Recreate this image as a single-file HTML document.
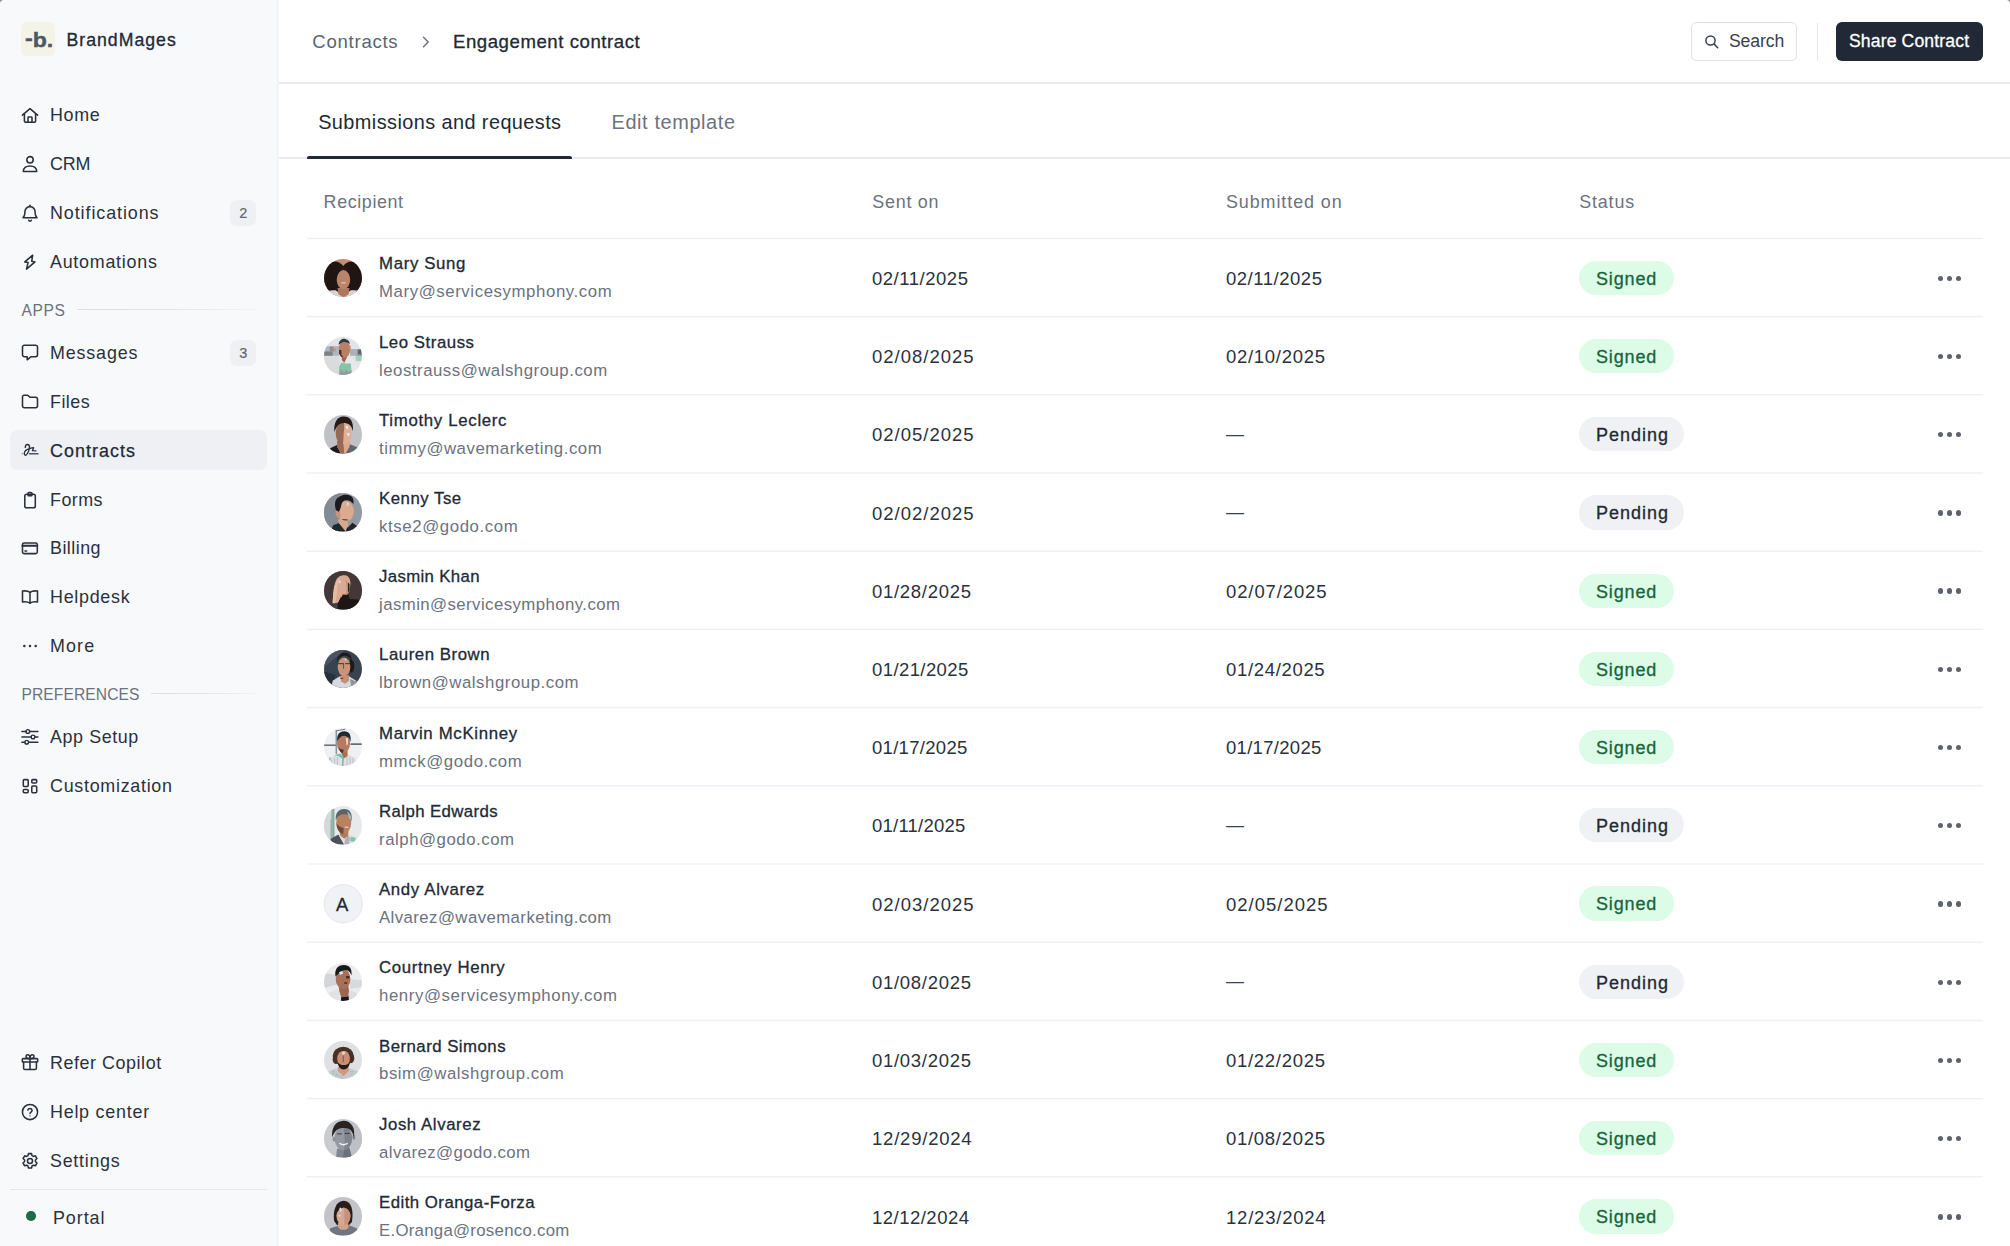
<!DOCTYPE html>
<html lang="en">
<head>
<meta charset="utf-8">
<title>Engagement contract – Contracts</title>
<style>
*{box-sizing:border-box;margin:0;padding:0}
html,body{width:2010px;height:1246px;overflow:hidden;background:#fff}
body{font-family:"Liberation Sans",sans-serif;color:#212936;position:relative;-webkit-font-smoothing:antialiased}
.abs{position:absolute}
/* ---------- sidebar ---------- */
#side{position:absolute;left:0;top:0;width:279px;height:1246px;background:linear-gradient(90deg,#f8f9fb 0 277px,#f0f1f5 277px 278px,#fafafb 278px 279px)}
.logo{position:absolute;left:21.3px;top:22.1px;width:33.9px;height:33.9px;border-radius:6px;background:#f3f3e8}
.logo span{position:absolute;left:3.6px;top:4.5px;font-weight:bold;font-size:21px;letter-spacing:0;color:#50565f;-webkit-text-stroke:0.4px #50565f;line-height:26px;transform:scaleX(1.1);transform-origin:0 0;white-space:nowrap}
.brand{position:absolute;left:66.5px;top:27.6px;font-size:17.7px;line-height:24px;color:#212936;-webkit-text-stroke:0.3px #212936;letter-spacing:0.42px;white-space:nowrap}
.nav{position:absolute;left:10px;width:257px;height:40px;border-radius:7px}
.nav.on{background:#eff0f3}
.nav svg{position:absolute;left:10px;top:10px;width:20px;height:20px;fill:none;stroke:#2a313c;stroke-width:1.55;stroke-linecap:round;stroke-linejoin:round;overflow:visible}
.nav .t{position:absolute;left:40px;top:8.2px;font-size:17.9px;line-height:24px;color:#2a313c;white-space:nowrap;letter-spacing:0.3px}
.nav.on .t{-webkit-text-stroke:0.25px #212936;color:#212936}
.nav .b{position:absolute;right:11px;top:7.2px;width:26px;height:26px;border-radius:6.5px;background:#eff0f3;font-size:14.5px;line-height:26.6px;text-align:center;color:#5f6673;-webkit-text-stroke:0.2px #5f6673;padding-left:0.8px}
.sec{position:absolute;left:21.5px;font-size:15.6px;line-height:20px;color:#6b7280;letter-spacing:0.35px;white-space:nowrap}
.sec i{position:absolute;top:7.7px;height:1.5px;background:linear-gradient(90deg,#dcdee3,#e3e5ea 55%,#f2f3f6)}
.logo i{font-style:normal;position:relative;top:-1.8px}
.cnr{position:absolute;top:0;width:4px;height:4px}
.sdiv{position:absolute;left:10px;width:257px;top:1188.5px;height:1.3px;background:#e4e6ea}
.dot{position:absolute;left:26.1px;top:1211.2px;width:9.5px;height:9.5px;border-radius:50%;background:#1f6a47}
/* ---------- header ---------- */
#main{position:absolute;left:279px;top:0;width:1731px;height:1246px;background:#fff}
.hline{position:absolute;left:0;width:1731px;height:1.5px;background:#e9ebef}
.bc{position:absolute;top:29px;font-size:18.6px;line-height:26px;white-space:nowrap}
.btn{position:absolute;top:22.4px;height:38.6px;border-radius:5.5px;font-size:17.6px;line-height:38px;white-space:nowrap}
/* ---------- tabs ---------- */
.tab{position:absolute;top:108px;font-size:19.9px;line-height:28px;white-space:nowrap}
/* ---------- table ---------- */
.th{position:absolute;top:190px;font-size:17.9px;line-height:24px;color:#6b7280;white-space:nowrap;letter-spacing:0.35px}
.row{position:absolute;left:28px;width:1676px;height:78.2px}
.ln{position:absolute;left:28px;width:1676px;height:3px}
.row .d2.em{letter-spacing:0;font-size:18px;color:#3a4150;top:27.4px}
.pill b{font-weight:normal}
.row .av{position:absolute;left:16.6px;top:20.9px;width:38.5px;height:38.5px;border-radius:50%;overflow:hidden}
.row .av svg{display:block;width:100%;height:100%}
.row .n{position:absolute;left:72px;top:14.7px;font-size:16.8px;line-height:24px;color:#212936;-webkit-text-stroke:0.3px #212936;white-space:nowrap;letter-spacing:0.45px}
.row .e{position:absolute;left:72px;top:42.6px;font-size:16.8px;line-height:24px;color:#6b7280;white-space:nowrap;letter-spacing:0.3px}
.row .d1,.row .d2{position:absolute;top:29.2px;font-size:18.5px;line-height:24px;color:#2a313c;white-space:nowrap;letter-spacing:0.55px}
.row .d1{left:565px}.row .d2{left:919px}
.pill{position:absolute;left:1272px;top:23px;height:34.2px;border-radius:17.1px;font-size:18px;line-height:36px;padding:0 17px;white-space:nowrap;letter-spacing:0.3px}
.pill.s{background:#dcfce7;color:#17643b;-webkit-text-stroke:0.3px #17643b;width:95px}
.pill.p{background:#f0f1f4;color:#212936;-webkit-text-stroke:0.3px #212936;width:105px}
.more{position:absolute;left:1631.2px;top:37.9px;width:24px;height:6px}
.more i{position:absolute;top:0;width:5.3px;height:5.3px;border-radius:50%;background:#5c636e}
</style>
</head>
<body>
<div id="side">
<div class="logo"><span><i>-</i>b.</span></div>
<div class="brand" style="letter-spacing:1.000px">BrandMages</div>
<div class="nav" style="top:95.00px"><svg viewBox="0 0 20 20"><path d="M2.4 10.2 10 3.7l7.6 6.5"/><path d="M4.4 8.9v6.8a1.6 1.6 0 0 0 1.6 1.6h8a1.6 1.6 0 0 0 1.6-1.6V8.9"/><path d="M8 17.1v-4.4a.7.7 0 0 1 .7-.7h2.6a.7.7 0 0 1 .7.7v4.4"/></svg><span class="t" style="letter-spacing:0.700px">Home</span></div>
<div class="nav" style="top:143.85px"><svg viewBox="0 0 20 20"><circle cx="10" cy="5.8" r="3.2"/><path d="M3.3 17.5c0-3.4 2.7-5.6 6.7-5.6s6.7 2.2 6.7 5.6z"/></svg><span class="t" style="letter-spacing:-0.200px">CRM</span></div>
<div class="nav" style="top:192.70px"><svg viewBox="0 0 20 20"><path d="M10 2.3v1"/><path d="M4.9 8.7a5.1 5.1 0 0 1 10.2 0v1.3c0 1.9.7 3.3 1.9 4.7H3c1.2-1.4 1.9-2.8 1.9-4.7z"/><path d="M8.7 17.3a1.4 1.4 0 0 0 2.6 0"/></svg><span class="t" style="letter-spacing:0.925px">Notifications</span><span class="b">2</span></div>
<div class="nav" style="top:241.55px"><svg viewBox="0 0 20 20"><path d="M12.7 3.2 4.8 9.9l3.3.7-1.6 6.5L15 9.9l-3.3-.6z"/></svg><span class="t" style="letter-spacing:0.740px">Automations</span></div>
<div class="sec" style="top:300.9px;letter-spacing:0.567px">APPS<i style="left:55.8px;width:179px"></i></div>
<div class="nav" style="top:332.60px"><svg viewBox="0 0 20 20"><path d="M4.4 2.2h11.2a1.9 1.9 0 0 1 1.9 1.9v7.7a1.9 1.9 0 0 1-1.9 1.9h-4.4l-4 3.1v-3.1H4.4a1.9 1.9 0 0 1-1.9-1.9V4.100a1.9 1.9 0 0 1 1.9-1.9z"/></svg><span class="t" style="letter-spacing:0.843px">Messages</span><span class="b">3</span></div>
<div class="nav" style="top:382.00px"><svg viewBox="0 0 20 20"><path d="M2.5 5a1.8 1.8 0 0 1 1.8-1.8h3.5l2.1 2.1h5.8a1.8 1.8 0 0 1 1.8 1.8v6.8a1.8 1.8 0 0 1-1.8 1.8H4.3a1.8 1.8 0 0 1-1.8-1.8z"/></svg><span class="t" style="letter-spacing:0.450px">Files</span></div>
<div class="nav on" style="top:430.40px"><svg viewBox="0 0 20 20"><circle cx="2.3" cy="13.7" r=".55" fill="#2a313c" stroke="none"/><path d="M5.3 7.4c0-1.8.9-2.9 2.1-2.9 1.300 0 2.100 1 2.100 2.400 0 2.300-.900 4.400-1.800 6.100-.700 1.300-1.300 2.200-2.100 2.200-.800 0-1.300-.800-1.300-1.700 0-2.400 2.400-4.200 5.200-4.900 1.400-.350 2.900-.700 4.100-.900l-1.200 3 3.500.2" stroke-width="1.35"/><path d="M9.4 13.8h8.6" stroke="#4b5563" stroke-width="1.5"/></svg><span class="t" style="letter-spacing:1.062px">Contracts</span></div>
<div class="nav" style="top:479.80px"><svg viewBox="0 0 20 20"><rect x="4.8" y="4.300" width="10.5" height="13.500" rx="1.800"/><path d="M8 4.300V3.600a1.200 1.200 0 0 1 1.200-1.200h1.600a1.200 1.200 0 0 1 1.200 1.200v.700M8 5.600h4"/></svg><span class="t" style="letter-spacing:0.450px">Forms</span></div>
<div class="nav" style="top:528.00px"><svg viewBox="0 0 20 20"><rect x="2.500" y="4.900" width="14.800" height="10.700" rx="1.700"/><path d="M2.500 7.700h14.800" stroke-width="2"/><path d="M5 13h1.600"/></svg><span class="t" style="letter-spacing:0.467px">Billing</span></div>
<div class="nav" style="top:576.85px"><svg viewBox="0 0 20 20"><path d="M10 5.300C8 3.900 5 3.700 2.500 4.100v10.900c2.500-.400 5.500-.200 7.500 1.200 2-1.400 5-1.600 7.500-1.200V4.100C15 3.700 12 3.900 10 5.300z"/><path d="M10 5.300v10.800"/></svg><span class="t" style="letter-spacing:0.714px">Helpdesk</span></div>
<div class="nav" style="top:625.70px"><svg viewBox="0 0 20 20"><circle cx="4.300" cy="10" r="1.25" fill="#2a313c" stroke="none"/><circle cx="10" cy="10" r="1.25" fill="#2a313c" stroke="none"/><circle cx="15.700" cy="10" r="1.25" fill="#2a313c" stroke="none"/></svg><span class="t" style="letter-spacing:1.133px">More</span></div>
<div class="sec" style="top:685.2px;letter-spacing:0.100px">PREFERENCES<i style="left:129.8px;width:105px"></i></div>
<div class="nav" style="top:716.90px"><svg viewBox="0 0 20 20"><path d="M1.900 4.500h4M9.700 4.500h8.200M1.900 10h9.200M14.900 10h3M1.900 15.200h2.900M8.600 15.200h9.300" stroke-width="1.500"/><circle cx="7.800" cy="4.500" r="1.850" stroke-width="1.400"/><circle cx="13" cy="10" r="1.850" stroke-width="1.400"/><circle cx="6.700" cy="15.200" r="1.850" stroke-width="1.400"/></svg><span class="t" style="letter-spacing:0.587px">App Setup</span></div>
<div class="nav" style="top:765.75px"><svg viewBox="0 0 20 20"><rect x="3.300" y="3.600" width="4.900" height="6.800" rx="1"/><rect x="3.300" y="13.400" width="4.900" height="3.300" rx="1"/><rect x="11.800" y="3.600" width="4.900" height="3.300" rx="1"/><rect x="11.800" y="10" width="4.900" height="6.700" rx="1"/></svg><span class="t" style="letter-spacing:0.717px">Customization</span></div>
<div class="nav" style="top:1042.40px"><svg viewBox="0 0 20 20"><rect x="2.300" y="6.600" width="15.400" height="3.400" rx=".8"/><path d="M3.600 10v6.200a1.300 1.300 0 0 0 1.300 1.300h10.200a1.300 1.300 0 0 0 1.300-1.300V10M10 6.600v10.900"/><path d="M10 6.600C8.500 6.600 6 6.300 6 4.400c0-1 .8-1.700 1.700-1.700 1.500 0 2.300 2 2.300 3.900zM10 6.600c1.500 0 4-.3 4-2.200 0-1-.8-1.700-1.700-1.700-1.500 0-2.300 2-2.300 3.900z"/></svg><span class="t" style="letter-spacing:0.558px">Refer Copilot</span></div>
<div class="nav" style="top:1091.70px"><svg viewBox="0 0 20 20"><circle cx="10" cy="10" r="7.600"/><path d="M7.900 8.100a2.150 2.150 0 0 1 4.200.5c0 1.400-2.100 1.700-2.100 3"/><circle cx="10" cy="13.900" r=".7" fill="#2a313c" stroke="none"/></svg><span class="t" style="letter-spacing:0.760px">Help center</span></div>
<div class="nav" style="top:1140.90px"><svg viewBox="0 0 20 20"><circle cx="10" cy="10" r="2.500"/><path d="M8.450 2.600h3.100l.5 2.100 1.300.75 2.050-.6 1.550 2.700-1.550 1.500v1.500l1.550 1.500-1.550 2.700-2.050-.6-1.300.75-.5 2.100h-3.100l-.5-2.100-1.300-.75-2.050.6-1.550-2.700 1.550-1.500v-1.500l-1.550-1.500 1.550-2.700 2.050.6 1.300-.75z"/></svg><span class="t" style="letter-spacing:0.729px">Settings</span></div>
<div class="sdiv"></div><div class="dot"></div><div class="cnr" style="left:0;background:radial-gradient(circle at 100% 100%,rgba(138,141,146,0) 3.6px,#8a8d92 4.6px)"></div>
<div class="nav" style="top:1197.7px"><span class="t" style="left:43px;letter-spacing:0.940px">Portal</span></div>
</div>
<div id="main">
<div class="cnr" style="right:0;background:radial-gradient(circle at 0 100%,rgba(138,141,146,0) 3.6px,#8a8d92 4.6px)"></div>
<span class="bc" style="left:33.3px;color:#5b6472;letter-spacing:0.725px">Contracts</span>
<svg class="abs" style="left:141.5px;top:35px;width:10px;height:14px" viewBox="0 0 10 14" fill="none" stroke="#6b7280" stroke-width="1.5" stroke-linecap="round" stroke-linejoin="round"><path d="M2.500 2.300 7.200 7l-4.700 4.700"/></svg>
<span class="bc" style="left:174.0px;color:#212936;-webkit-text-stroke:0.3px #212936;letter-spacing:0.550px">Engagement contract</span>
<div class="btn" style="left:1412.2px;width:105.8px;border:1.5px solid #dfe2e8;background:#fff;color:#3a4150"><svg class="abs" style="left:12px;top:10.800px;width:17px;height:17px;overflow:visible" viewBox="0 0 17 17" fill="none" stroke="#3a4150" stroke-width="1.500" stroke-linecap="round"><circle cx="6.500" cy="6.500" r="4.600"/><path d="M9.900 9.900 13.700 13.700"/></svg><span class="abs" style="left:36.700px;top:-1.1px;letter-spacing:-0.060px">Search</span></div>
<div class="abs" style="left:1538.0px;top:22.5px;width:1.4px;height:38.5px;background:#e5e7eb"></div>
<div class="btn" style="left:1557.0px;width:147px;background:#212936;color:#fff;-webkit-text-stroke:0.3px #fff;border-radius:6px"><span class="abs" style="left:13px;top:0.1px;letter-spacing:0.131px">Share Contract</span></div>
<div class="hline" style="top:82px"></div>
<span class="tab" style="left:39.2px;color:#212936;letter-spacing:0.417px">Submissions and requests</span>
<span class="tab" style="left:332.5px;color:#6b7280;letter-spacing:0.617px">Edit template</span>
<div class="hline" style="top:157.3px;height:1.4px"></div>
<div class="abs" style="left:28.0px;top:155.8px;width:265px;height:3px;background:#212936;border-radius:2px 2px 0 0"></div>
<span class="th" style="left:44.6px;letter-spacing:0.612px">Recipient</span>
<span class="th" style="left:593.3px;letter-spacing:0.750px">Sent on</span>
<span class="th" style="left:947.0px;letter-spacing:0.927px">Submitted on</span>
<span class="th" style="left:1300.3px;letter-spacing:0.820px">Status</span>
<div class="ln" style="top:237px;background:linear-gradient(#fafbfc 0 1px,#edeff4 1px 2px,#fefefe 2px 3px)"></div>
<div class="row" style="top:237.70px"><div class="av"><svg viewBox="0 0 40 40"><rect width="40" height="40" fill="#c48e73"/><ellipse cx="11.500" cy="19" rx="12" ry="16.500" fill="#1f1512"/><ellipse cx="28.500" cy="19" rx="12" ry="16.500" fill="#1f1512"/><ellipse cx="20" cy="24" rx="14" ry="12" fill="#1f1512"/><path d="M0 40V34q6-2 12-1.500L20 38l8-5.500q6-.5 12 1.500v6z" fill="#d4d5d8"/><path d="M14 30h12.500l-1 6.500-5 3.500-5.500-3.500z" fill="#ad775d"/><ellipse cx="20.200" cy="21.500" rx="7" ry="10" fill="#b98469"/><path d="M14 13.500c2-3.500 4.500-4.500 7-4.500s4 1.500 5.500 4.500c-2-1.500-3.500-2-6-2s-4.500.5-6.500 2z" fill="#2a1a15"/><path d="M18 24.800h4.600" stroke="#f1dcd2" stroke-width="1" fill="none"/></svg></div><span class="n" style="letter-spacing:0.663px">Mary Sung</span><span class="e" style="letter-spacing:0.591px">Mary@servicesymphony.com</span><span class="d1" style="letter-spacing:0.522px">02/11/2025</span><span class="d2" style="letter-spacing:0.522px">02/11/2025</span><span class="pill s"><b style="letter-spacing:0.840px">Signed</b></span><span class="more"><i style="left:0"></i><i style="left:8.8px"></i><i style="left:17.6px"></i></span></div>
<div class="ln" style="top:315px;background:linear-gradient(#fefefe 0 1px,#edeff4 1px 2px,#fafbfc 2px 3px)"></div>
<div class="row" style="top:315.92px"><div class="av"><svg viewBox="0 0 40 40"><rect width="40" height="40" fill="#e3e4e7"/><rect x="0" y="9.500" width="15.500" height="10" fill="#a9aeb3" opacity=".85"/><rect x="0" y="15" width="9" height="4.500" fill="#6f767d" opacity=".8"/><rect x="6" y="10" width="4" height="5" fill="#8a9096"/><rect x="9.500" y="12" width="3" height="3" fill="#c58d6f" opacity=".7"/><rect x="27" y="12.500" width="13" height="7" fill="#a3a8ae" opacity=".85"/><rect x="35" y="13" width="4" height="6.500" fill="#5d646b"/><rect x="33" y="18" width="6" height="7" fill="#86c5a6" opacity=".7"/><rect x="0" y="20" width="16" height="20" fill="#d6d8db" opacity=".8"/><path d="M15 40l.5-8 3-7 5-3.500 5.500 1 5 5.500 2.500 12z" fill="#e8e9ec"/><path d="M15.300 40l.4-9 2.300-4.500 4 1 6 0 .5 8-3 4.500z" fill="#86c3a7"/><path d="M16 40l1-6 4 2.500 2-3 2 3.500 3.500-3 .5 6z" fill="#979aa1"/><path d="M18.500 19l5.500 2-3 6-2.500-3z" fill="#9c684c"/><ellipse cx="21.300" cy="12.500" rx="6" ry="9" fill="#b98163"/><path d="M15.200 8C15.500 3.500 19 1.500 22 2c3 .5 4.800 2.500 4.800 5.500C24.500 4.800 20 4.300 17.500 6.500z" fill="#2f3a44"/><path d="M15.600 13.500h2.500v5l2 2.500-2.500-.5-2-3z" fill="#4a2f22"/><rect x="26" y="9" width="1.800" height="4" rx=".9" fill="#c99072"/></svg></div><span class="n" style="letter-spacing:0.540px">Leo Strauss</span><span class="e" style="letter-spacing:0.517px">leostrauss@walshgroup.com</span><span class="d1" style="letter-spacing:1.000px">02/08/2025</span><span class="d2" style="letter-spacing:0.706px">02/10/2025</span><span class="pill s"><b style="letter-spacing:0.840px">Signed</b></span><span class="more"><i style="left:0"></i><i style="left:8.8px"></i><i style="left:17.6px"></i></span></div>
<div class="ln" style="top:394px;background:linear-gradient(#f0f1f6 0 1px,#f7f8fa 1px 2px,#ffffff 2px 3px)"></div>
<div class="row" style="top:394.14px"><div class="av"><svg viewBox="0 0 40 40"><rect width="40" height="40" fill="#c0c2c7"/><path d="M5.500 40l1-5.500 7.500-3.500 6 9z" fill="#231a1c"/><path d="M20 40l7-9.500 7.500 3 1.500 6.500z" fill="#5d6671"/><path d="M13.500 27h13.500l-.5 6-4 7h-5l-3.500-6.500z" fill="#dba88d"/><path d="M13.500 27h6.500l1 13h-3l-4-6.500z" fill="#9a6a55"/><ellipse cx="20.500" cy="19" rx="8.300" ry="11.500" fill="#deaf95"/><path d="M20.500 7.500c-5 0-8.300 5-8.300 11.500 0 6 3 11 7.300 11.500 1-4 .500-8 1-12 .5-4 1-7 0-11z" fill="#8a5d4a" opacity=".85"/><path d="M10.800 18C9.800 8 13.500 1.800 20 1.500 27 1.300 31 6 30 17c-1-5-3-7.500-7-8.500-4-.5-7 .5-9 3-1.500 2-2.500 4-3.200 6.500z" fill="#241a18"/><path d="M22 11.500h3v3h-1.500z" fill="#e9eef2" opacity=".9"/><path d="M23 19.500l4-1-1 4z" fill="#e9eef2" opacity=".85"/></svg></div><span class="n" style="letter-spacing:0.693px">Timothy Leclerc</span><span class="e" style="letter-spacing:0.532px">timmy@wavemarketing.com</span><span class="d1" style="letter-spacing:1.000px">02/05/2025</span><span class="d2 em">—</span><span class="pill p"><b style="letter-spacing:0.983px">Pending</b></span><span class="more"><i style="left:0"></i><i style="left:8.8px"></i><i style="left:17.6px"></i></span></div>
<div class="ln" style="top:472px;background:linear-gradient(#f3f5f8 0 1px,#f3f5f8 1px 2px,#ffffff 2px 3px)"></div>
<div class="row" style="top:472.36px"><div class="av"><svg viewBox="0 0 40 40"><rect width="40" height="40" fill="#9299a1"/><rect width="17" height="40" fill="#858b94"/><path d="M7 40l2.500-6.500 9-3.500 6 6 5-5 4.500 3 2 6z" fill="#1f2730"/><path d="M14.500 27l8.500 1 2.500 4-3 8-7-8.500z" fill="#d9a78d"/><ellipse cx="22.500" cy="19" rx="8.500" ry="10.800" fill="#dcaa91"/><path d="M14 26c-2-3-2.500-6-1.500-9l3-1 2 8z" fill="#c8957b"/><path d="M12.500 18C10.500 12 11 6 16 4c2-2 6-2.500 9-2 4 .5 6.500 4 5.500 9.500-2-3-5-4.500-8-4-2.500.5-4 2-4.500 5-.5 3-1.500 5-2.500 7z" fill="#1c1a1d"/><path d="M18.500 27.500c2-1 5-.5 7.500.5-2 1-5.500 1-7.500-.5z" fill="#6d4a3a"/><path d="M24 9.500l2 1-1 3-1.500-1z" fill="#dfe8ee" opacity=".85"/></svg></div><span class="n" style="letter-spacing:0.513px">Kenny Tse</span><span class="e" style="letter-spacing:0.608px">ktse2@godo.com</span><span class="d1" style="letter-spacing:1.000px">02/02/2025</span><span class="d2 em">—</span><span class="pill p"><b style="letter-spacing:0.983px">Pending</b></span><span class="more"><i style="left:0"></i><i style="left:8.8px"></i><i style="left:17.6px"></i></span></div>
<div class="ln" style="top:550px;background:linear-gradient(#f7f8fa 0 1px,#f0f1f6 1px 2px,#ffffff 2px 3px)"></div>
<div class="row" style="top:550.58px"><div class="av"><svg viewBox="0 0 40 40"><rect width="40" height="40" fill="#4b3a35"/><rect width="40" height="40" fill="#2a3340" opacity=".22"/><path d="M12 11c1.500-5 6-7 10-6.500 3.500.5 5.500 4 5.500 8.500l-1 8-3.500 5-6 1.500-2 5.500-6 .5c.500-8 .5-16 3-22.500z" fill="#dba892"/><path d="M9 33.500c.500-9 1-17 3.500-22 1-2.500 3-4 5-4.500-2 2-3 5-3.500 9-.500 6-1 12-2.500 17.500z" fill="#e6bca3"/><path d="M22 9c2.500 1 3.500 4 3.500 8l-1 6-3 3.500c1.500-3 2-6 2-9s-.500-6-1.500-8.500z" fill="#b98469" opacity=".75"/><path d="M14 40l.5-7 3.500-5.500 1.500-3 6 .5 1 4 9.500.5 0 10.500z" fill="#1c1614"/><path d="M8 36l5.500-3 .5 7h-4z" fill="#3a4450" opacity=".8"/><path d="M25 12l1.500 1.500v7L25 22z" fill="#1f1614"/><path d="M15 10.500l2-1 .5 2.500-2 1z" fill="#dfe6ec" opacity=".85"/></svg></div><span class="n" style="letter-spacing:0.350px">Jasmin Khan</span><span class="e" style="letter-spacing:0.428px">jasmin@servicesymphony.com</span><span class="d1" style="letter-spacing:0.706px">01/28/2025</span><span class="d2" style="letter-spacing:0.889px">02/07/2025</span><span class="pill s"><b style="letter-spacing:0.840px">Signed</b></span><span class="more"><i style="left:0"></i><i style="left:8.8px"></i><i style="left:17.6px"></i></span></div>
<div class="ln" style="top:628px;background:linear-gradient(#fafbfc 0 1px,#edeff4 1px 2px,#fefefe 2px 3px)"></div>
<div class="row" style="top:628.80px"><div class="av"><svg viewBox="0 0 40 40"><rect width="40" height="40" fill="#39434f"/><path d="M0 0h22L0 18z" fill="#4b5662" opacity=".9"/><path d="M0 22l12 4-4 14H0z" fill="#27313c"/><path d="M7.500 40l1.500-8 7-4.500 9.500-.5 8 5 1 8z" fill="#d6d9dd"/><path d="M27 30l7 3 .500 7h-6z" fill="#8d949c"/><path d="M16.500 27l9.500-1 0 6-4 3-4-2z" fill="#c48f74"/><path d="M17 29.500h3" stroke="#3a2a25" stroke-width=".8"/><path d="M27 9.500c3 .5 4.500 3.500 4.500 7 0 3-1 6-3 7.500l-1.500-2z" fill="#1f1a19"/><ellipse cx="20.800" cy="17.500" rx="6.600" ry="9.800" fill="#c99478"/><path d="M13 13c.500-6 3.500-10.500 8.500-10.500 4.500 0 7 3 7.500 8.500-2-3.500-4.500-5-8-5-3.500 0-6 2.500-8 7z" fill="#1f1a19"/><path d="M14.500 14.200h6m1.500 0h5" stroke="#2b2321" stroke-width=".9"/><path d="M20.300 14v5.500" stroke="#5a3a30" stroke-width=".8"/><path d="M21 8.500l2.500 1-1 2.500z" fill="#cfdbe3" opacity=".85"/></svg></div><span class="n" style="letter-spacing:0.555px">Lauren Brown</span><span class="e" style="letter-spacing:0.545px">lbrown@walshgroup.com</span><span class="d1" style="letter-spacing:0.411px">01/21/2025</span><span class="d2" style="letter-spacing:0.672px">01/24/2025</span><span class="pill s"><b style="letter-spacing:0.840px">Signed</b></span><span class="more"><i style="left:0"></i><i style="left:8.8px"></i><i style="left:17.6px"></i></span></div>
<div class="ln" style="top:706px;background:linear-gradient(#fefefe 0 1px,#edeff4 1px 2px,#fafbfc 2px 3px)"></div>
<div class="row" style="top:707.02px"><div class="av"><svg viewBox="0 0 40 40"><rect width="40" height="40" fill="#eff0f3"/><rect x="0" y="17.200" width="13" height="1.300" fill="#4a525c"/><rect x="27.500" y="16" width="12" height="1.500" fill="#4a525c"/><rect x="12" y="2" width="1.600" height="25" fill="#8e959c"/><path d="M12 2.500l10-1.800v1.200L13 3.500z" fill="#6f767d"/><path d="M5 40l1-8.500 8.500-5 5.500 1.500 4-1 8 4 3 9z" fill="#dfe0e5"/><path d="M8 33v7M11 31v9M14 30v10M24 30v10M27 30v10M30 31v9" stroke="#b9bcc3" stroke-width=".9"/><path d="M10.500 28.500l6-2 4.500 4-1 9.500h-1.500l.5-8-4-3z" fill="#76c0a0"/><rect x="5.500" y="30.500" width="1.300" height="3" fill="#76c0a0"/><path d="M16.500 24l8 0 0 5-3.500 2.500z" fill="#a56f53"/><ellipse cx="20.300" cy="16" rx="6.800" ry="9.600" fill="#b47b5f"/><path d="M13.800 14C13 7 16 3.500 21 3.500s7.500 3.500 6.500 11c-1-4-2.500-6-6.500-6.500-3 0-5.500 2-7.200 6z" fill="#1f2a33"/><path d="M15 20c1 3.500 2.500 5.500 4.500 6l1-3.500c-2 0-4-.5-5.500-2.500z" fill="#4a3026"/><path d="M22.500 10.500h2.500v6l-1.500 2z" fill="#e3eaf0" opacity=".85"/></svg></div><span class="n" style="letter-spacing:0.671px">Marvin McKinney</span><span class="e" style="letter-spacing:0.608px">mmck@godo.com</span><span class="d1" style="letter-spacing:0.300px">01/17/2025</span><span class="d2" style="letter-spacing:0.300px">01/17/2025</span><span class="pill s"><b style="letter-spacing:0.840px">Signed</b></span><span class="more"><i style="left:0"></i><i style="left:8.8px"></i><i style="left:17.6px"></i></span></div>
<div class="ln" style="top:785px;background:linear-gradient(#f0f1f6 0 1px,#f7f8fa 1px 2px,#ffffff 2px 3px)"></div>
<div class="row" style="top:785.24px"><div class="av"><svg viewBox="0 0 40 40"><rect width="40" height="40" fill="#e7e9eb"/><rect x="0" y="5" width="7.500" height="35" fill="#d5d8db"/><rect x="7.500" y="3" width="2.100" height="30" fill="#7fc0a2"/><rect x="9.600" y="3" width="1.200" height="32" fill="#8a9198"/><rect x="6.800" y="14" width="1" height="22" fill="#9aa0a6"/><path d="M6.500 40l.5-6 8-4.500 6 10.500z" fill="#4a535c"/><path d="M15 29.500l5 4 5.500-4.500 5.500 3 3 2.500 1 5.500H21z" fill="#dfe1e4"/><path d="M28 32l5 1-1 5-5-2z" fill="#84c4a7"/><path d="M21 40l1-6 3-4 2 3-1 7z" fill="#aeb4ba"/><path d="M16 26l9.500-1-.5 6-4 3-4-3z" fill="#b07a5b"/><ellipse cx="20.500" cy="17.500" rx="7.800" ry="10.800" fill="#b8815f"/><path d="M12.300 15C11.500 7.500 15 3.200 21 3.200s9 4.500 7.500 13c-1-5-3-7.500-7.500-7.500-4 0-7 2-8.700 6.300z" fill="#5a646c"/><path d="M13 18c0 6 3 10.500 7 11l.5-6c-2.500-.5-5.500-2-7.500-5z" fill="#5f4336" opacity=".85"/><path d="M24 6c3 1 4.500 4 4.500 8l-2.500-1z" fill="#aab2b9"/><path d="M21.500 22h4" stroke="#e5e9ec" stroke-width="1"/></svg></div><span class="n" style="letter-spacing:0.408px">Ralph Edwards</span><span class="e" style="letter-spacing:0.538px">ralph@godo.com</span><span class="d1" style="letter-spacing:0.228px">01/11/2025</span><span class="d2 em">—</span><span class="pill p"><b style="letter-spacing:0.983px">Pending</b></span><span class="more"><i style="left:0"></i><i style="left:8.8px"></i><i style="left:17.6px"></i></span></div>
<div class="ln" style="top:863px;background:linear-gradient(#f3f5f8 0 1px,#f3f5f8 1px 2px,#ffffff 2px 3px)"></div>
<div class="row" style="top:863.46px"><div class="av" style="overflow:visible"><svg viewBox="0 0 40 40" style="overflow:visible"><circle cx="20" cy="20.500" r="19.900" fill="#f1f2f5" stroke="#e3e5ea" stroke-width="1"/><text x="18.800" y="27.700" text-anchor="middle" font-family="Liberation Sans, sans-serif" font-size="19.200" fill="#212936" stroke="#212936" stroke-width=".3">A</text></svg></div><span class="n" style="letter-spacing:0.664px">Andy Alvarez</span><span class="e" style="letter-spacing:0.421px">Alvarez@wavemarketing.com</span><span class="d1" style="letter-spacing:1.000px">02/03/2025</span><span class="d2" style="letter-spacing:1.000px">02/05/2025</span><span class="pill s"><b style="letter-spacing:0.840px">Signed</b></span><span class="more"><i style="left:0"></i><i style="left:8.8px"></i><i style="left:17.6px"></i></span></div>
<div class="ln" style="top:941px;background:linear-gradient(#f7f8fa 0 1px,#f0f1f6 1px 2px,#ffffff 2px 3px)"></div>
<div class="row" style="top:941.68px"><div class="av"><svg viewBox="0 0 40 40"><rect width="40" height="40" fill="#ebecee"/><path d="M0 10l15 3v9L0 26z" fill="#cdd0d4" opacity=".8"/><path d="M27 17l13 1v7l-13 2z" fill="#d3d5d9" opacity=".8"/><path d="M3 40l2.500-9 11-5 2 14z" fill="#e2e3e6"/><path d="M23 40l1.500-13 9 4 3 9z" fill="#dcdde1"/><path d="M17.500 40l.5-6h7.500l.5 6z" fill="#16171a"/><path d="M15 22l10-1 1 8-1 6-7 .5-2-6z" fill="#9a6650"/><ellipse cx="19.800" cy="16.500" rx="7.600" ry="10.500" fill="#a87058"/><path d="M12 14C10.500 6.500 14.500 2 20.500 2c6 0 9 4 8 11-1-3-2.500-5-5-5.500-2-.5-5 .5-7 2.500-2 1.500-3.500 3-4.500 4z" fill="#15181c"/><path d="M23 13.500h3.500v2.500H23zM21 20h3v1.500h-3z" fill="#2a1d18" opacity=".8"/><path d="M15.500 9.500l3.500-1.500 1 3-3.500 1.500z" fill="#e8edf1" opacity=".9"/></svg></div><span class="n" style="letter-spacing:0.631px">Courtney Henry</span><span class="e" style="letter-spacing:0.592px">henry@servicesymphony.com</span><span class="d1" style="letter-spacing:0.706px">01/08/2025</span><span class="d2 em">—</span><span class="pill p"><b style="letter-spacing:0.983px">Pending</b></span><span class="more"><i style="left:0"></i><i style="left:8.8px"></i><i style="left:17.6px"></i></span></div>
<div class="ln" style="top:1019px;background:linear-gradient(#fafbfc 0 1px,#edeff4 1px 2px,#fefefe 2px 3px)"></div>
<div class="row" style="top:1019.90px"><div class="av"><svg viewBox="0 0 40 40"><rect width="40" height="40" fill="#dfe0e4"/><path d="M3.500 40l1.500-8.500 9-3.500 6 4.500 6-4.500 9 3.500 1.500 8.500z" fill="#c6c9ce"/><path d="M9 33.500h1.500M12 34.500h1.500M14 35.800h1.300M17 36.500h1.300M27 32h1.300M29.500 32h1.200M18 38.300h1.300" stroke="#6fc596" stroke-width="1"/><path d="M9 31.500h1.500M27.500 34.500h1" stroke="#d99a7a" stroke-width="1"/><path d="M14.500 27l11-1 .5 5-5.500 5.500-6-5z" fill="#d19a80"/><ellipse cx="20" cy="15.500" rx="11" ry="9.500" fill="#4a2f25"/><ellipse cx="12.500" cy="19" rx="3.500" ry="5" fill="#4a2f25"/><ellipse cx="28" cy="18" rx="3.500" ry="5" fill="#4a2f25"/><ellipse cx="20.300" cy="18.500" rx="6.600" ry="9" fill="#c98e74"/><path d="M14 21.500c.500 5 3 8 6.500 8s6-3 6.500-8c-1.500 2.500-3.500 3.500-6.500 3.500s-5-1-6.500-3.500z" fill="#2a1c18"/><path d="M15 12c1.500-2.500 3.500-3.500 5.500-3.500 2.500 0 4.500 1 5.500 3.500-2-1.200-3.500-1.500-5.500-1.500s-3.500.3-5.500 1.500z" fill="#4a2f25"/><path d="M18.500 12.500l2.500-2 1 2.500-2.500 1.500z" fill="#dfe6eb" opacity=".9"/><path d="M20 15v7" stroke="#5a3a2e" stroke-width=".7"/></svg></div><span class="n" style="letter-spacing:0.477px">Bernard Simons</span><span class="e" style="letter-spacing:0.556px">bsim@walshgroup.com</span><span class="d1" style="letter-spacing:0.706px">01/03/2025</span><span class="d2" style="letter-spacing:0.706px">01/22/2025</span><span class="pill s"><b style="letter-spacing:0.840px">Signed</b></span><span class="more"><i style="left:0"></i><i style="left:8.8px"></i><i style="left:17.6px"></i></span></div>
<div class="ln" style="top:1097px;background:linear-gradient(#fefefe 0 1px,#edeff4 1px 2px,#fafbfc 2px 3px)"></div>
<div class="row" style="top:1098.12px"><div class="av"><svg viewBox="0 0 40 40"><rect width="40" height="40" fill="#c8cbcf"/><rect x="28" y="0" width="12" height="40" fill="#bdc1c6"/><path d="M12.500 40l1-9 13-1 2.500 10z" fill="#7f8790"/><path d="M20 40l1-9.500 5.500-.5 2.500 10z" fill="#6a727b"/><ellipse cx="20" cy="20" rx="9" ry="12.500" fill="#9299a1"/><path d="M20 7.500c5 0 9 5 9 12.500s-3.500 12-8 12.500c1-8 .5-17-1-25z" fill="#7c848d"/><ellipse cx="10.500" cy="21" rx="1.500" ry="2.500" fill="#8a9199"/><ellipse cx="31" cy="19" rx="1.500" ry="2.800" fill="#7f868e"/><path d="M8.500 19C7.500 10 11.500 2.500 19 2c5-.5 8 1.500 9.500 4 2.500 2.500 3.500 7 2.500 13-1-4.500-2.500-7-5-8.500-3-1.500-8-1.500-11 0-3 1.500-5 4.500-6.500 8.500z" fill="#2a2320"/><path d="M15.500 24.500q5 3 9.500 0l-.5 1.500q-4.500 3-8.500 0z" fill="#f1f3f5"/><path d="M13.500 15.500h5M21.500 15h5" stroke="#3a3532" stroke-width="1"/></svg></div><span class="n" style="letter-spacing:0.582px">Josh Alvarez</span><span class="e" style="letter-spacing:0.413px">alvarez@godo.com</span><span class="d1" style="letter-spacing:0.783px">12/29/2024</span><span class="d2" style="letter-spacing:0.706px">01/08/2025</span><span class="pill s"><b style="letter-spacing:0.840px">Signed</b></span><span class="more"><i style="left:0"></i><i style="left:8.8px"></i><i style="left:17.6px"></i></span></div>
<div class="ln" style="top:1176px;background:linear-gradient(#f0f1f6 0 1px,#f7f8fa 1px 2px,#ffffff 2px 3px)"></div>
<div class="row" style="top:1176.34px"><div class="av"><svg viewBox="0 0 40 40"><rect width="40" height="40" fill="#c2c4c9"/><path d="M5 40l1.500-7.500 9-3 9.500-.5 9 3.500 1.500 7.500z" fill="#6f7680"/><path d="M10.500 25C9 14 12.500 4 20.500 4S31 14 29 26l-3 3H13.500z" fill="#2a1d19"/><path d="M14.500 27l10.500-1 .5 6-3 2h-5l-3-2.500z" fill="#d3a18a"/><ellipse cx="20.200" cy="19.500" rx="7.300" ry="10" fill="#d8a791"/><path d="M20.200 9.500c4 0 7.300 4.500 7.300 10s-3 9.500-6.500 10c.5-7 .500-13-.8-20z" fill="#bf8e78" opacity=".8"/><path d="M12.800 18C12.500 11 15.500 7.500 20.500 7.500S28 11 27.800 18c-1.500-4-3.500-6.500-7.300-7-3.800.5-6 3-7.700 7z" fill="#2a1d19"/><path d="M16 11.500l1.500-.5 1 3.500-2 .5z" fill="#e3ecf2" opacity=".9"/><path d="M14.500 18.500l3 .500-1 2z" fill="#e3ecf2" opacity=".8"/></svg></div><span class="n" style="letter-spacing:0.482px">Edith Oranga-Forza</span><span class="e" style="letter-spacing:0.279px">E.Oranga@rosenco.com</span><span class="d1" style="letter-spacing:0.489px">12/12/2024</span><span class="d2" style="letter-spacing:0.783px">12/23/2024</span><span class="pill s"><b style="letter-spacing:0.840px">Signed</b></span><span class="more"><i style="left:0"></i><i style="left:8.8px"></i><i style="left:17.6px"></i></span></div>
</div>
</body>
</html>
